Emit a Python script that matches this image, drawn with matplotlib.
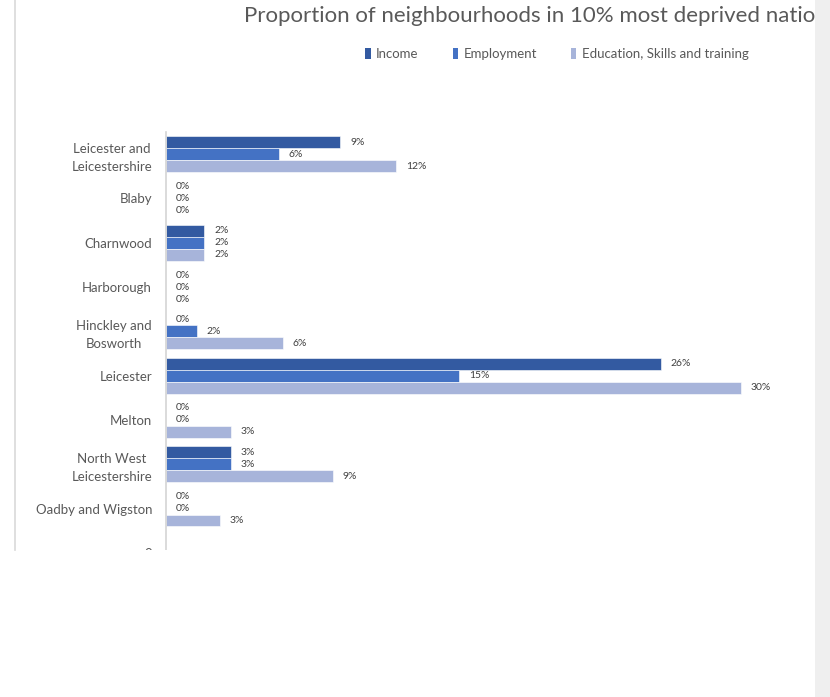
import matplotlib.pyplot as plt
from matplotlib.patches import Patch, Rectangle
from matplotlib.lines import Line2D

categories = ["Leicester and\nLeicestershire", "Blaby", "Charnwood", "Harborough",
              "Hinckley and\nBosworth", "Leicester", "Melton",
              "North West\nLeicestershire", "Oadby and Wigston", "0"]
income = [9.1, 0, 2.0, 0, 0, 25.8, 0, 3.4, 0]
employment = [5.9, 0, 2.0, 0, 1.6, 15.3, 0, 3.4, 0]
education = [12.0, 0, 2.0, 0, 6.1, 30.0, 3.4, 8.7, 2.8]
series_names = ["Income", "Employment", "Education, Skills and training"]
title = "Proportion of neighbourhoods in 10% most deprived natio"

colors = ["#335AA1", "#4472C4", "#A7B4DA"]
text_col = "#595959"
plt.rcParams['font.family'] = ['Lato', 'DejaVu Sans']

W, H = 830, 697
fig = plt.figure(figsize=(W / 100, H / 100), dpi=100)
ax = fig.add_axes([166 / W, (H - 575) / H, (798.6 - 166) / W, (575 - 132) / H])

bar_h = 0.27
offsets = [-bar_h, 0, bar_h]
for vals, off, col in zip([income, employment, education], offsets, colors):
    ys = [i + off for i in range(len(vals))]
    ax.barh(ys, vals, height=bar_h, color=col, edgecolor="white", linewidth=0.4)
    for y, v in zip(ys, vals):
        ax.annotate(f"{v:.0f}%", (v, y), xytext=(7, 0), textcoords="offset points",
                    va="center", ha="left", fontsize=7.5, color="#404040")

ax.set_xlim(0, 33)
ax.set_ylim(len(categories) - 0.5, -0.5)
ax.set_yticks(range(len(categories)))
ax.set_yticklabels(categories, fontsize=9.5, color=text_col, multialignment="center",
                   linespacing=1.6)
ax.tick_params(axis="y", length=0, pad=10)
ax.set_xticks([])
for s in ["top", "right", "bottom"]:
    ax.spines[s].set_visible(False)
ax.spines["left"].set_color("#D4D4D4")
ax.spines["left"].set_linewidth(1.2)

fig.text(244 / W, 1 - 22 / H, title, ha="left", va="baseline", fontsize=16, color=text_col)

handles = [Patch(facecolor=c, edgecolor="none") for c in colors]
fig.legend(handles, series_names, loc="center", bbox_to_anchor=(557 / W, 1 - 54 / H),
           ncol=3, frameon=False, fontsize=9.5, handlelength=0.4, handleheight=0.9,
           handletextpad=0.4, columnspacing=2.6, labelcolor=text_col)

# cropped screenshot edges
fig.add_artist(Rectangle((0, 0), 815 / W, (H - 550) / H, transform=fig.transFigure,
                         facecolor="white", edgecolor="none", zorder=10))
fig.add_artist(Rectangle((815 / W, 0), 15 / W, 1, transform=fig.transFigure,
                         facecolor="#EFEFEF", edgecolor="none", zorder=20))
fig.add_artist(Line2D([15 / W, 15 / W], [1 - 550 / H, 1], transform=fig.transFigure,
                      color="#D9D9D9", linewidth=1.2, zorder=20))

fig.savefig("out.png", dpi=100)
